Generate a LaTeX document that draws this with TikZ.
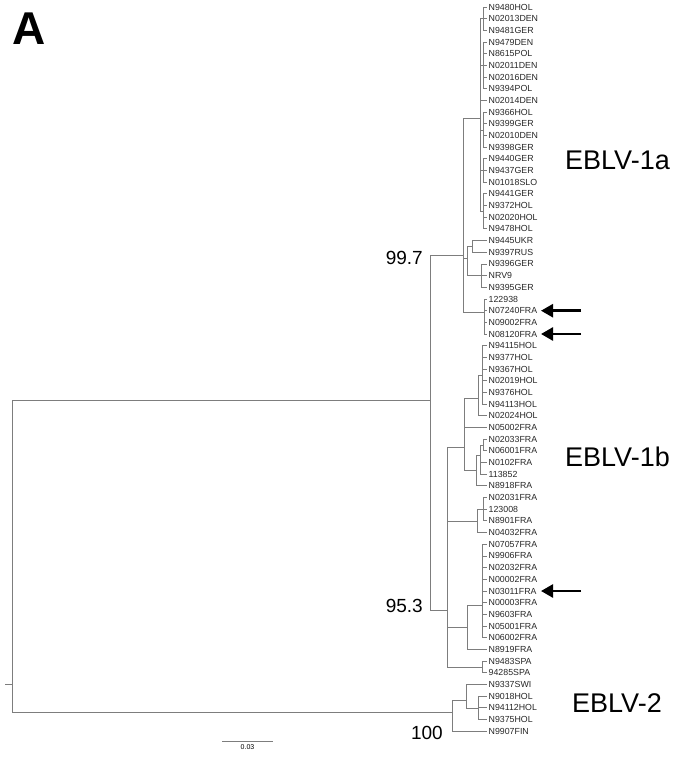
\documentclass[tikz,border=0pt]{standalone}
\usepackage{fontspec}
\setmainfont{Liberation Sans}
\usetikzlibrary{arrows.meta}
\definecolor{treegray}{RGB}{125,125,125}
\begin{document}
\begin{tikzpicture}[x=1pt,y=-1pt,
  br/.style={draw=treegray, line width=0.9pt},
  tiplab/.style={anchor=west, inner sep=0pt, font=\fontsize{8.8}{9}\selectfont, text=black!85},
  clade/.style={anchor=west, inner sep=0pt, font=\fontsize{27}{29}\selectfont},
  boot/.style={anchor=east, inner sep=0pt, font=\fontsize{19}{21}\selectfont},
  arr/.style={line width=2.6pt, -{Triangle[length=12pt,width=13pt]}}]
\useasboundingbox (0,0) rectangle (697,759);

% panel letter
\node[inner sep=0pt, font=\fontsize{46}{46}\selectfont\bfseries] (panel) at (29.5,29) {A};

% tips
\foreach \lab [count=\i from 0] in {N9480HOL,N02013DEN,N9481GER,N9479DEN,N8615POL,N02011DEN,N02016DEN,N9394POL,N02014DEN,N9366HOL,N9399GER,N02010DEN,N9398GER,N9440GER,N9437GER,N01018SLO,N9441GER,N9372HOL,N02020HOL,N9478HOL,N9445UKR,N9397RUS,N9396GER,NRV9,N9395GER,122938,N07240FRA,N09002FRA,N08120FRA,N94115HOL,N9377HOL,N9367HOL,N02019HOL,N9376HOL,N94113HOL,N02024HOL,N05002FRA,N02033FRA,N06001FRA,N0102FRA,113852,N8918FRA,N02031FRA,123008,N8901FRA,N04032FRA,N07057FRA,N9906FRA,N02032FRA,N00002FRA,N03011FRA,N00003FRA,N9603FRA,N05001FRA,N06002FRA,N8919FRA,N9483SPA,94285SPA,N9337SWI,N9018HOL,N94112HOL,N9375HOL,N9907FIN}{
  \coordinate (e\i) at (487,{7+11.68*\i});
  \node[tiplab] (t\i) at (488.5,{7+11.68*\i}) {\lab};
}

% internal nodes
\coordinate (rootstub) at (5,684);
\coordinate (root) at (12,684);
\coordinate (E1) at (430,400);
\coordinate (A1) at (463,255);
\coordinate (a) at (480,118);
\coordinate (a0) at (483,18.7);
\coordinate (a3) at (483,65.4);
\coordinate (a9) at (483,130);
\coordinate (a13) at (483,170.5);
\coordinate (a16) at (483,211);
\coordinate (b) at (467,258);
\coordinate (b1) at (472,246.5);
\coordinate (b2) at (481,275.6);
\coordinate (c) at (484,312);
\coordinate (B) at (447,610);
\coordinate (T) at (464,447);
\coordinate (H) at (478,398);
\coordinate (H1) at (482,375);
\coordinate (B2) at (476,470);
\coordinate (B2a) at (480,455);
\coordinate (B2b) at (483,445);
\coordinate (B3) at (477,521);
\coordinate (B3a) at (483,509);
\coordinate (Y) at (467,627);
\coordinate (Yc) at (482,605);
\coordinate (S) at (482,667);
\coordinate (E2) at (452,712);
\coordinate (E2a) at (466,700);
\coordinate (E2b) at (478,708);

% root
\draw[br] (rootstub) -- (root);
\draw[br] (root) |- (E1);
\draw[br] (root) |- (E2);
% EBLV-1
\draw[br] (E1) |- (A1);
\draw[br] (E1) |- (B);
% EBLV-1a
\draw[br] (A1) |- (a);
\draw[br] (A1) |- (b);
\draw[br] (A1) |- (c);
\foreach \n in {a0,a3,a9,a13,a16} \draw[br] (a) |- (\n);
\draw[br] (a) |- (e8);
\foreach \i in {0,1,2} \draw[br] (a0) |- (e\i);
\foreach \i in {3,...,7} \draw[br] (a3) |- (e\i);
\foreach \i in {9,...,12} \draw[br] (a9) |- (e\i);
\foreach \i in {13,14,15} \draw[br] (a13) |- (e\i);
\foreach \i in {16,...,19} \draw[br] (a16) |- (e\i);
\draw[br] (b) |- (b1);
\draw[br] (b) |- (b2);
\foreach \i in {20,21} \draw[br] (b1) |- (e\i);
\foreach \i in {22,23,24} \draw[br] (b2) |- (e\i);
\foreach \i in {25,...,28} \draw[br] (c) |- (e\i);
% EBLV-1b
\draw[br] (B) |- (T);
\draw[br] (B) |- (B3);
\draw[br] (B) |- (Y);
\draw[br] (B) |- (S);
\draw[br] (T) |- (H);
\draw[br] (T) |- (e36);
\draw[br] (T) |- (B2);
\draw[br] (H) |- (H1);
\draw[br] (H) |- (e35);
\foreach \i in {29,...,34} \draw[br] (H1) |- (e\i);
\draw[br] (B2) |- (B2a);
\draw[br] (B2) |- (e41);
\draw[br] (B2a) |- (B2b);
\draw[br] (B2a) |- (e39);
\draw[br] (B2a) |- (e40);
\foreach \i in {37,38} \draw[br] (B2b) |- (e\i);
\draw[br] (B3) |- (B3a);
\draw[br] (B3) |- (e45);
\foreach \i in {42,43,44} \draw[br] (B3a) |- (e\i);
\draw[br] (Y) |- (Yc);
\draw[br] (Y) |- (e55);
\foreach \i in {46,...,54} \draw[br] (Yc) |- (e\i);
\foreach \i in {56,57} \draw[br] (S) |- (e\i);
% EBLV-2
\draw[br] (E2) |- (E2a);
\draw[br] (E2) |- (e62);
\draw[br] (E2a) |- (e58);
\draw[br] (E2a) |- (E2b);
\foreach \i in {59,60,61} \draw[br] (E2b) |- (e\i);

% bootstrap values
\node[boot] (bs1) at (423,258) {99.7};
\node[boot] (bs2) at (423,606) {95.3};
\node[boot] (bs3) at (443,733) {100};

% clade labels
\node[clade] (c1a) at (565,160) {EBLV-1a};
\node[clade] (c1b) at (565,457) {EBLV-1b};
\node[clade] (c2) at (572,703) {EBLV-2};

% arrows
\coordinate (ar1s) at (581,310.7); \coordinate (ar1e) at (541,310.7);
\coordinate (ar2s) at (581,334.0); \coordinate (ar2e) at (541,334.0);
\coordinate (ar3s) at (581,591.0); \coordinate (ar3e) at (541,591.0);
\draw[arr] (ar1s) -- (ar1e);
\draw[arr] (ar2s) -- (ar2e);
\draw[arr] (ar3s) -- (ar3e);

% scale bar
\coordinate (sb1) at (222,741);
\coordinate (sb2) at (273,741);
\draw[br] (sb1) -- (sb2) node[midway, below=3pt, inner sep=0pt, font=\fontsize{7}{8}\selectfont] (sblab) {0.03};
\end{tikzpicture}
\end{document}
